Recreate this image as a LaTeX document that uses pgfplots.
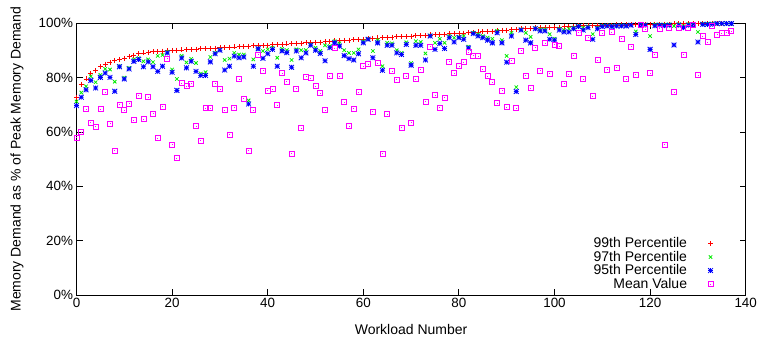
\documentclass[border=0pt]{standalone}
\usepackage{fontspec}
\setmainfont{Liberation Sans}
\usepackage{pgfplots}
\usepackage{pgfplotstable}
\pgfplotsset{compat=1.18}
\definecolor{gpred}{RGB}{255,0,0}
\definecolor{gpgreen}{RGB}{0,235,0}
\definecolor{gpblue}{RGB}{0,0,255}
\definecolor{gpmag}{RGB}{255,0,255}
\makeatletter
\pgfdeclareplotmark{gpstar}{%
 \pgfpathmoveto{\pgfqpoint{-\pgfplotmarksize}{0pt}}\pgfpathlineto{\pgfqpoint{\pgfplotmarksize}{0pt}}%
 \pgfpathmoveto{\pgfqpoint{0pt}{-\pgfplotmarksize}}\pgfpathlineto{\pgfqpoint{0pt}{\pgfplotmarksize}}%
 \pgfpathmoveto{\pgfqpoint{-\pgfplotmarksize}{-\pgfplotmarksize}}\pgfpathlineto{\pgfqpoint{\pgfplotmarksize}{\pgfplotmarksize}}%
 \pgfpathmoveto{\pgfqpoint{-\pgfplotmarksize}{\pgfplotmarksize}}\pgfpathlineto{\pgfqpoint{\pgfplotmarksize}{-\pgfplotmarksize}}%
 \pgfusepathqstroke}
\pgfdeclareplotmark{gpsquare}{%
 \pgfpathrectangle{\pgfqpoint{-\pgfplotmarksize}{-\pgfplotmarksize}}{\pgfqpoint{2\pgfplotmarksize}{2\pgfplotmarksize}}%
 \pgfusepathqstroke
 \pgfpathrectangle{\pgfqpoint{-0.4bp}{-0.4bp}}{\pgfqpoint{0.8bp}{0.8bp}}%
 \pgfusepathqfill}
\makeatother
\pgfplotstableread{
x p99 p97 p95 mean
0 72.8 71.2 69.7 58
1 77.5 74.5 72.8 60
2 79.5 76.8 75.5 68.4
3 81.5 80.5 79 63.4
4 82.5 78.3 76.2 62
5 84.0 81 80.1 68.4
6 85.0 83.2 81.7 74.7
7 85.6 83 80.1 63
8 86.2 78.5 75 53.2
9 86.7 84.2 84 70
10 87.1 80 79.5 68
11 87.7 83.6 83.2 70.5
12 88.3 86.7 86 64.4
13 88.8 87.2 86.7 73.4
14 89.1 86 84 64.8
15 89.3 86.7 85.8 72.8
16 89.5 85.7 84 66.8
17 89.6 88 82.3 57.7
18 89.8 88.3 84.2 69.4
19 89.9 89.5 89.1 87
20 90.0 83 82 55.3
21 90.1 79.5 75.3 50.4
22 90.2 88 87.2 78
23 90.3 85.6 83.6 76.8
24 90.4 86.9 86 77.7
25 90.5 85.4 82.3 62.2
26 90.6 81.5 80.8 56.8
27 90.7 82 80.8 68.8
28 90.8 87.6 85.8 68.8
29 90.9 89.1 88.8 77.7
30 91.0 90.3 90.1 75.8
31 91.1 86.5 82.8 68.1
32 91.2 87 84.2 59.1
33 91.3 89.1 87.9 69
34 91.4 88.5 87.3 79.5
35 91.5 88.5 87.6 72.3
36 91.6 71.6 70.3 53.1
37 91.7 86.7 84.2 68.1
38 91.8 90.8 90.6 88.4
39 91.9 89.8 87.1 82.5
40 92.0 90.4 88.8 75.3
41 92.1 91 90.4 75.8
42 92.2 87.3 84.2 69.9
43 92.3 90.6 89.8 81.6
44 92.4 90.1 89.2 78.5
45 92.5 86.5 83.8 52.1
46 92.6 90.4 89.8 76
47 92.7 90.1 87.3 61.4
48 92.8 90.1 89.1 80.4
49 92.9 92.2 91.9 79.9
50 93.0 91 90.1 76.9
51 93.1 89.8 88.9 74.2
52 93.2 91.9 86.2 68.1
53 93.3 91.6 91 80.5
54 93.5 93.4 92.8 90.9
55 93.6 92.6 91.6 80.5
56 93.7 90.1 88.1 70.9
57 93.8 89.1 87 62.2
58 93.9 89.1 86.5 68.6
59 94.0 90.4 88.8 74.6
60 94.1 93.4 92.8 84.2
61 94.4 94.3 94.1 84.9
62 94.5 89.8 87.3 67.4
63 94.6 93.8 92.8 85.4
64 94.7 84.2 82.7 52.1
65 94.8 92.8 91.9 66.5
66 94.9 92.6 91.9 82.3
67 95.0 90.1 89.1 79.2
68 95.1 89.1 88.5 61.6
69 95.2 93 92.2 80.6
70 95.3 85.4 84.6 63.4
71 95.4 93.4 91.9 79.5
72 95.5 93.1 91.9 83
73 95.6 88.9 86.5 71.2
74 95.7 95.5 95.3 91.4
75 95.8 92.8 90.4 73.6
76 95.9 94.3 92.6 68.9
77 96.0 92.8 90.7 72.6
78 96.1 95.3 94.7 85.9
79 96.2 94.7 93.1 81.6
80 96.3 95 94.7 84.2
81 96.4 95.3 94.1 85.7
82 96.5 91.4 90.9 89.4
83 96.7 96.5 96.2 88.1
84 96.8 96 95.3 87.9
85 96.9 95.3 94.7 83.2
86 97.0 94.7 93.8 80.6
87 97.1 94.3 92.8 78.4
88 97.3 97.2 96.5 70.7
89 97.4 93.8 92.8 75.2
90 97.5 88 85.7 69.1
91 97.6 96.5 95.3 86.3
92 97.7 76.5 74.9 68.8
93 98.0 97.8 97.5 90
94 98.1 96.5 93.8 80.7
95 98.2 95 92.8 76.2
96 98.3 98.2 98 91.1
97 98.4 97.8 97.2 82.5
98 98.5 97.8 97.2 92.7
99 98.5 96 94.1 81.5
100 98.6 94.3 93.8 92.1
101 98.6 98 97.5 91.5
102 98.7 97.5 96.8 77.8
103 98.7 98 96.8 81.2
104 98.8 98.4 98 88.1
105 99.1 99 98.8 96.5
106 99.1 98.4 97.5 79.4
107 99.2 98.8 98.4 94.8
108 99.2 96 94.1 73.1
109 99.2 98.4 98 86.4
110 99.3 99.1 98.8 96.3
111 99.3 99.2 99 83
112 99.3 99.1 98.8 96.7
113 99.4 99.2 99 83.6
114 99.4 99.2 99 94.3
115 99.4 99.2 99 79.4
116 99.5 99.4 99.3 91.4
117 99.5 97 95.9 81.1
118 99.6 99.5 99.3 99.3
119 99.6 99.5 99.3 97.8
120 99.6 95.3 90.4 81.7
121 99.7 99.5 99.1 88.5
122 99.7 99.5 99.3 98
123 99.7 99.5 99.1 55.4
124 99.7 99.6 99.3 98.4
125 99.8 99 92 74.6
126 99.8 99.7 99.3 98.4
127 99.8 99 98.4 88.5
128 99.8 99.7 99.3 98.4
129 99.9 99.7 99.3 99.3
130 99.9 96.8 93.1 80.9
131 99.9 99.8 99.6 95.3
132 99.9 99.8 99.6 93.1
133 100 99.9 99.6 99.1
134 100 99.9 99.9 95.9
135 100 99.9 99.9 96.3
136 100 99.9 99.9 96.5
137 100 99.9 99.9 97.2
}\datatable
\begin{document}
\begin{tikzpicture}
\begin{axis}[
  scale only axis,
  width=669.2bp, height=271.7bp,
  xmin=0, xmax=140, ymin=0, ymax=100,
  xtick={0,20,...,140},
  ytick={0,20,...,100},
  yticklabels={0\%,20\%,40\%,60\%,80\%,100\%},
  minor tick num=0,
  tick align=inside,
  major tick length=6bp,
  axis line style={line width=0.9bp},
  every tick/.style={line width=0.9bp, black},
  /pgf/number format/assume math mode=true,
  font=\fontsize{14bp}{16bp}\selectfont,
  tick label style={font=\fontsize{13.4bp}{15bp}\selectfont},
  xlabel={Workload Number},
  ylabel={Memory Demand as \% of Peak Memory Demand},
  xlabel style={at={(axis description cs:0.5,-0.1288)}, anchor=center},
  ylabel style={at={(axis description cs:-0.0889,0.5)}, anchor=center},
  clip=false,
  legend style={at={(axis description cs:0.9515,0.219)}, anchor=north east, draw=none, fill=none,
    font=\fontsize{14bp}{14.4bp}\selectfont, row sep=-2.1bp, column sep=19bp, inner sep=0pt},
  legend cell align=right,
  legend plot pos=right,
]
\addplot[only marks, mark=+, mark size=2.5bp, color=gpred, line width=0.8bp] table[x=x,y=p99] {\datatable};
\addlegendentry{99th Percentile}
\addplot[only marks, mark=x, mark size=2.4bp, color=gpgreen, line width=0.8bp] table[x=x,y=p97] {\datatable};
\addlegendentry{97th Percentile}
\addplot[only marks, mark=gpstar, mark size=2.4bp, color=gpblue, line width=0.8bp] table[x=x,y=p95] {\datatable};
\addlegendentry{95th Percentile}
\addplot[only marks, mark=gpsquare, mark size=2.5bp, color=gpmag, line width=0.8bp] table[x=x,y=mean] {\datatable};
\addlegendentry{Mean Value}
\coordinate (sw) at (rel axis cs:0,0);
\coordinate (ne) at (rel axis cs:1,1);
\end{axis}
\pgfresetboundingbox
\path ([shift={(-76.5bp,-48bp)}]sw) rectangle ([shift={(15.3bp,23.3bp)}]ne);
\end{tikzpicture}
\end{document}
